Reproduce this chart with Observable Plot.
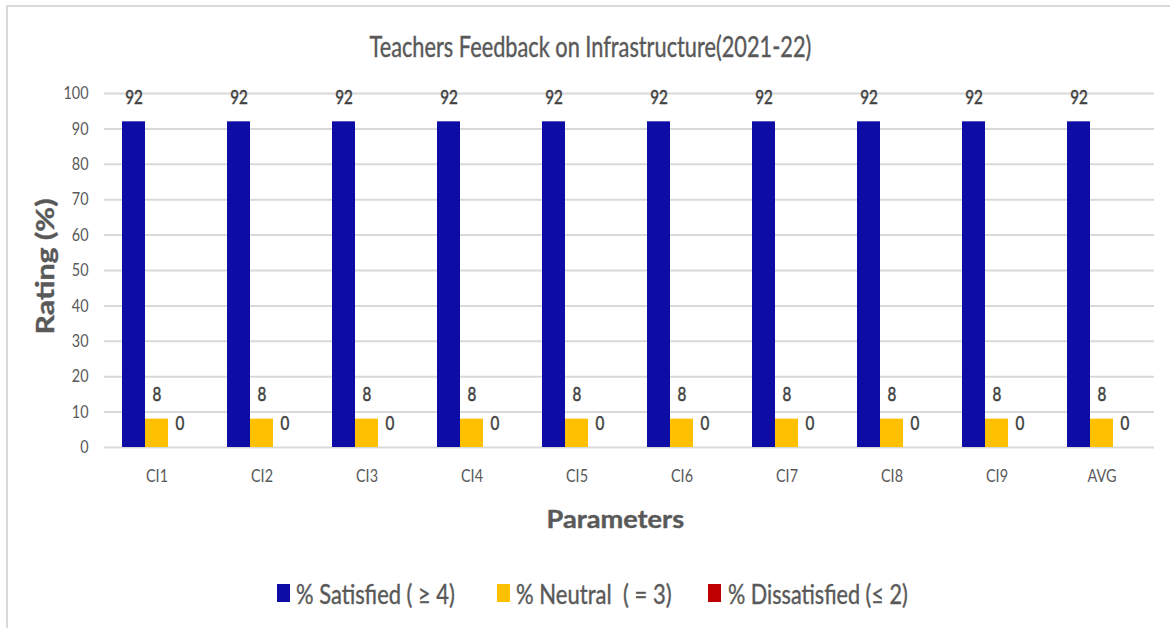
<!DOCTYPE html>
<html>
<head>
<meta charset="utf-8">
<script src="https://cdn.jsdelivr.net/npm/d3@7"></script>
<script src="https://cdn.jsdelivr.net/npm/@observablehq/plot@0.6"></script>
<style>
  html, body { margin: 0; padding: 0; background: #fff; }
  body { width: 1170px; height: 628px; position: relative; overflow: hidden; font-family: Lato, "Open Sans", sans-serif; }
  #frame { position: absolute; left: 6px; top: 5px; width: 1170px; height: 640px; border-left: 2px solid #d9d9d9; border-top: 2px solid #d9d9d9; }
  #chart { position: absolute; left: 0; top: 0; }
  .t { position: absolute; white-space: pre; color: #595959; line-height: 1; -webkit-text-stroke: 0.4px #595959; }
  #title { font-size: 28px; }
  #xlabel { font-size: 25px; font-weight: bold; }
  #ylabel { font-size: 25px; font-weight: bold; }
  .sw { position: absolute; width: 13px; height: 18px; }
  .lt { font-size: 27px; }
</style>
</head>
<body>
<div id="frame"></div>
<div id="chart"></div>
<div class="t" id="title">Teachers Feedback on Infrastructure(2021-22)</div>
<div class="t" id="xlabel">Parameters</div>
<div class="t" id="ylabel">Rating (%)</div>
<div id="legend"></div>
<script>
const categories = ["CI1", "CI2", "CI3", "CI4", "CI5", "CI6", "CI7", "CI8", "CI9", "AVG"];
const seriesNames = ["% Satisfied ( \u2265 4)", "% Neutral  ( = 3)", "% Dissatisfied (\u2264 2)"];
const seriesColors = ["#0d0da6", "#ffc000", "#c00000"];
const satisfied = [92, 92, 92, 92, 92, 92, 92, 92, 92, 92];
const neutral = [8, 8, 8, 8, 8, 8, 8, 8, 8, 8];
const dissatisfied = [0, 0, 0, 0, 0, 0, 0, 0, 0, 0];
const yTicks = [0, 10, 20, 30, 40, 50, 60, 70, 80, 90, 100];

const seriesValues = [satisfied, neutral, dissatisfied];
const data = [];
categories.forEach((c, i) => {
  seriesNames.forEach((s, j) => data.push({category: c, series: s, value: seriesValues[j][i]}));
});

const chart = Plot.plot({
  width: 1170,
  height: 560,
  marginTop: 93,
  marginBottom: 113,
  marginLeft: 103,
  marginRight: 15,
  style: {fontFamily: "Lato, 'Open Sans', sans-serif", background: "transparent"},
  fx: {domain: categories, padding: 0, label: null},
  x: {domain: seriesNames, paddingInner: 0, paddingOuter: 0.69, axis: null},
  y: {domain: [0, 100], label: null},
  color: {domain: seriesNames, range: seriesColors},
  marks: [
    Plot.gridY(yTicks, {stroke: "#d9d9d9", strokeOpacity: 1, strokeWidth: 2}),
    Plot.axisY(yTicks, {tickSize: 0, tickPadding: 16, fontSize: 18, fill: "#595959", stroke: "#595959", strokeWidth: 0.4, label: null}),
    Plot.axisFx({anchor: "bottom", tickSize: 0, tickPadding: 22, fontSize: 18, fill: "#595959", stroke: "#595959", strokeWidth: 0.4, label: null}),
    Plot.barY(data, {fx: "category", x: "series", y: "value", fill: "series"}),
    Plot.text(data, {fx: "category", x: "series", y: "value", text: d => String(d.value), dy: -24, fontSize: 19, fill: "#404040", stroke: "#404040", strokeWidth: 0.5})
  ]
});
document.getElementById("chart").appendChild(chart);

// the reference uses a condensed face: narrow each SVG text about its own anchor
chart.querySelectorAll("text").forEach(t => {
  const tr = t.getAttribute("transform") || "";
  const x = parseFloat(t.getAttribute("x")) || 0;
  t.setAttribute("transform", `${tr} translate(${x},0) scale(0.8,1) translate(${-x},0)`.trim());
});

function place(el, cx, cy, targetW, rotate) {
  const w = el.offsetWidth, h = el.offsetHeight;
  const s = targetW / w;
  el.style.left = (cx - w / 2) + "px";
  el.style.top = (cy - h / 2) + "px";
  el.style.transformOrigin = "center center";
  el.style.transform = (rotate ? "rotate(-90deg) " : "") + "scaleX(" + s + ")";
}
place(document.getElementById("title"), 590, 46, 442, false);
place(document.getElementById("xlabel"), 615, 518, 138, false);
place(document.getElementById("ylabel"), 44, 266, 136, true);

const legend = document.getElementById("legend");
const swX = [277, 497, 708];
const txX = [296, 516, 728];
const txW = [159, 156, 180];
seriesNames.forEach((s, j) => {
  const sw = document.createElement("div");
  sw.className = "sw";
  sw.style.background = seriesColors[j];
  sw.style.left = swX[j] + "px";
  sw.style.top = "584px";
  legend.appendChild(sw);
  const label = document.createElement("div");
  label.className = "t lt";
  label.textContent = s;
  legend.appendChild(label);
  const w = label.offsetWidth, h = label.offsetHeight;
  label.style.left = txX[j] + "px";
  label.style.top = (593 - h / 2) + "px";
  label.style.transformOrigin = "left center";
  label.style.transform = "scaleX(" + (txW[j] / w) + ")";
});
</script>
</body>
</html>
